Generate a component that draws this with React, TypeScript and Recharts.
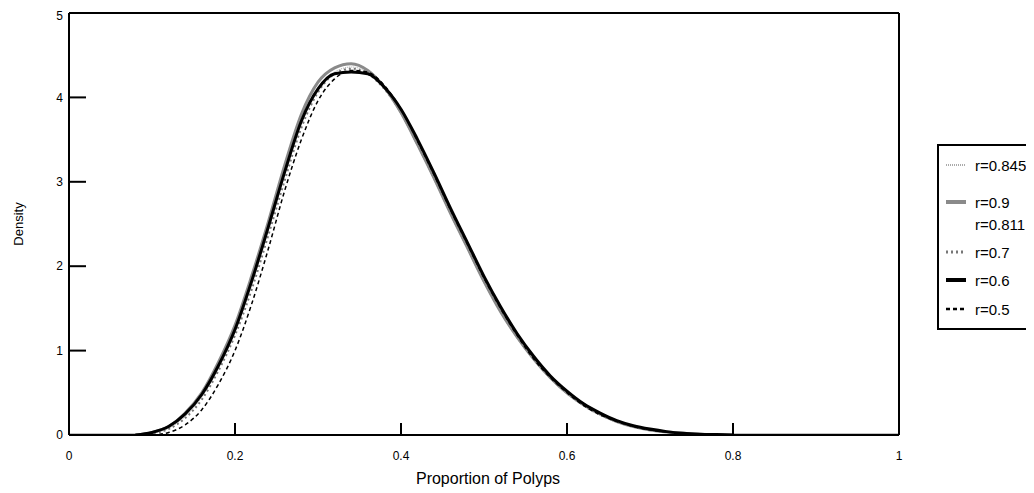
import { LineChart, Line, XAxis, YAxis, ReferenceLine } from "recharts"

const xs = [
    0, 0.02, 0.04, 0.06, 0.08, 0.1, 0.12, 0.14, 0.16, 0.18, 0.2, 0.22, 0.24, 0.26, 0.28, 0.3, 0.32, 0.34, 0.36, 0.38,
    0.4, 0.42, 0.44, 0.46, 0.48, 0.5, 0.52, 0.54, 0.56, 0.58, 0.6, 0.62, 0.64, 0.66, 0.68, 0.7, 0.72, 0.74, 0.76, 0.78,
    0.8, 0.82, 0.84, 0.86, 0.88, 0.9, 0.92, 0.94, 0.96, 0.98, 1,
]

const r845 = [
    0, 0, 0, 0, 0, 0.02, 0.08, 0.22, 0.45, 0.8, 1.22, 1.78, 2.42, 3.1, 3.72, 4.1, 4.3, 4.36, 4.3, 4.1,
    3.8, 3.42, 3.02, 2.6, 2.2, 1.8, 1.45, 1.14, 0.88, 0.66, 0.48, 0.34, 0.23, 0.15, 0.1, 0.06, 0.035, 0.02, 0.01, 0.004,
    0, 0, 0, 0, 0, 0, 0, 0, 0, 0, 0,
]
const r9 = [
    0, 0, 0, 0, 0, 0.03, 0.1, 0.26, 0.5, 0.86, 1.3, 1.88, 2.52, 3.2, 3.8, 4.18, 4.35, 4.4, 4.32, 4.12,
    3.82, 3.44, 3.04, 2.62, 2.22, 1.82, 1.46, 1.16, 0.9, 0.68, 0.5, 0.36, 0.25, 0.16, 0.1, 0.06, 0.035, 0.02, 0.01, 0.004,
    0, 0, 0, 0, 0, 0, 0, 0, 0, 0, 0,
]
const r811 = [
    0, 0, 0, 0, 0, 0.02, 0.09, 0.24, 0.47, 0.83, 1.26, 1.83, 2.47, 3.15, 3.76, 4.14, 4.33, 4.38, 4.31, 4.11,
    3.81, 3.43, 3.03, 2.61, 2.21, 1.81, 1.45, 1.15, 0.89, 0.67, 0.49, 0.35, 0.24, 0.16, 0.1, 0.06, 0.035, 0.02, 0.01, 0.004,
    0, 0, 0, 0, 0, 0, 0, 0, 0, 0, 0,
]
const r7 = [
    0, 0, 0, 0, 0, 0.02, 0.07, 0.2, 0.42, 0.76, 1.18, 1.72, 2.36, 3.02, 3.64, 4.06, 4.28, 4.34, 4.28, 4.1,
    3.82, 3.45, 3.05, 2.64, 2.24, 1.84, 1.48, 1.17, 0.9, 0.68, 0.5, 0.35, 0.24, 0.16, 0.1, 0.06, 0.035, 0.02, 0.01, 0.004,
    0, 0, 0, 0, 0, 0, 0, 0, 0, 0, 0,
]
const r6 = [
    null, null, null, null, 0, 0.03, 0.1, 0.25, 0.48, 0.82, 1.25, 1.82, 2.46, 3.12, 3.72, 4.1, 4.28, 4.3, 4.28, 4.12,
    3.86, 3.5, 3.1, 2.68, 2.28, 1.88, 1.52, 1.2, 0.93, 0.7, 0.52, 0.37, 0.26, 0.17, 0.11, 0.07, 0.04, 0.02, 0.01, 0.005,
    0, null, null, null, null, null, null, null, null, null, null,
]
const r5 = [
    null, null, null, null, null, 0, 0.03, 0.12, 0.3, 0.6, 1.0, 1.55, 2.2, 2.9, 3.5, 3.96, 4.22, 4.32, 4.3, 4.14,
    3.86, 3.48, 3.08, 2.66, 2.26, 1.86, 1.5, 1.18, 0.9, 0.68, 0.5, 0.35, 0.24, 0.16, 0.1, 0.06, 0.035, 0.02, 0.01, 0.004,
    0, null, null, null, null, null, null, null, null, null, null,
]

const xTicks = [0, 0.2, 0.4, 0.6, 0.8, 1]
const yTicks = [0, 1, 2, 3, 4, 5]

const data = xs.map((x, i) => ({ x, r845: r845[i], r9: r9[i], r811: r811[i], r7: r7[i], r6: r6[i], r5: r5[i] }))

const series = [
    { key: "r845", name: "r=0.845", stroke: "#aaaaaa", width: 1, dash: "1 1", sym: true },
    { key: "r9", name: "r=0.9", stroke: "#8a8a8a", width: 3, dash: undefined, sym: true },
    { key: "r811", name: "r=0.811", stroke: "#ffffff", width: 1, dash: undefined, sym: false },
    { key: "r7", name: "r=0.7", stroke: "#777777", width: 2, dash: "2 3", sym: true },
    { key: "r6", name: "r=0.6", stroke: "#000000", width: 3, dash: undefined, sym: true },
    { key: "r5", name: "r=0.5", stroke: "#000000", width: 1.5, dash: "4 3", sym: true },
]
// drawing order: gray 0.9 over the light ones (covers baseline), black ones last
const drawOrder = ["r845", "r811", "r7", "r9", "r6", "r5"]

const legendTops = [19, 56, 78, 106, 134, 163]

const font = "Liberation Sans, Arial, sans-serif"

function LegendBox() {
    return (
        <div style={{ position: "absolute", left: 929, top: 136, width: 140, height: 182, borderLeft: "2px solid #000", borderTop: "2px solid #000", borderBottom: "2px solid #000", fontFamily: font, fontSize: 15, background: "#fff" }}>
            {series.map((s, i) => (
                <div key={s.key} style={{ position: "absolute", left: 6, top: legendTops[i] - 9, height: 18, display: "flex", alignItems: "center", whiteSpace: "nowrap" }}>
                    <svg width={22} height={16}>
                        {s.sym && <line x1={1} x2={21} y1={8} y2={8} stroke={s.stroke} strokeWidth={s.width + 1} strokeDasharray={s.dash} />}
                    </svg>
                    <span style={{ marginLeft: 8, color: "#000" }}>{s.name}</span>
                </div>
            ))}
        </div>
    )
}

function DensityLabel(props: any) {
    const vb = props.viewBox || {}
    const cx = 10
    const cy = vb.y + vb.height / 2
    return (
        <text x={cx} y={cy} transform={`rotate(-90 ${cx} ${cy})`} textAnchor="middle" dominantBaseline="central" fill="#000" fontSize={13} fontFamily={font}>
            Density
        </text>
    )
}

function XTitle(props: any) {
    const vb = props.viewBox || {}
    return (
        <text x={vb.x + vb.width / 2 + 4} y={470} textAnchor="middle" dominantBaseline="central" fill="#000" fontSize={16} fontFamily={font}>
            Proportion of  Polyps
        </text>
    )
}

export default function App() {
    return (
        <div style={{ position: "relative", width: 1026, height: 485, overflow: "hidden" }}>
            <style>{"html, body { overflow: hidden; }"}</style>
            <LineChart width={1026} height={485} data={data} margin={{ top: 5, right: 135, bottom: 0, left: 0 }}>
                <XAxis
                    dataKey="x"
                    type="number"
                    domain={[0, 1]}
                    ticks={xTicks}
                    tickFormatter={(v) => `${v}`}
                    axisLine={{ stroke: "#000", strokeWidth: 2 }}
                    tickLine={{ stroke: "#000", strokeWidth: 2 }}
                    tickSize={-12}
                    tickMargin={28}
                    height={58}
                    tick={{ fill: "#000", fontSize: 12, fontFamily: font }}
                    label={<XTitle />}
                />
                <YAxis
                    type="number"
                    domain={[0, 5]}
                    ticks={yTicks}
                    allowDataOverflow
                    axisLine={{ stroke: "#000", strokeWidth: 2 }}
                    tickLine={{ stroke: "#000", strokeWidth: 2 }}
                    tickSize={-17}
                    tickMargin={23}
                    width={61}
                    tick={{ fill: "#000", fontSize: 12, fontFamily: font }}
                    label={<DensityLabel />}
                />
                <ReferenceLine y={5} stroke="#000" strokeWidth={2} />
                <ReferenceLine x={1} stroke="#000" strokeWidth={2} />
                {drawOrder.map((k) => {
                    const s = series.find((v) => v.key === k)!
                    return (
                        <Line
                            key={s.key}
                            dataKey={s.key}
                            name={s.name}
                            type="monotone"
                            stroke={s.stroke}
                            strokeWidth={s.width}
                            strokeDasharray={s.dash}
                            dot={false}
                            activeDot={false}
                            isAnimationActive={false}
                        />
                    )
                })}
            </LineChart>
            <LegendBox />
        </div>
    )
}
